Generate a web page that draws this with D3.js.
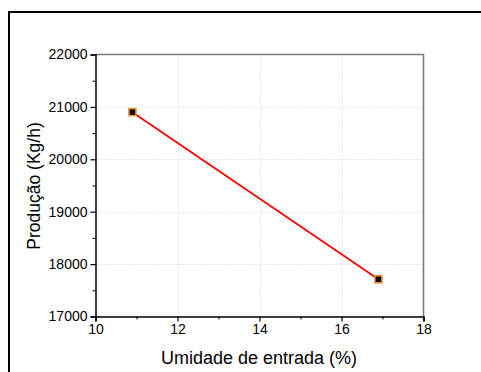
<!DOCTYPE html>
<html>
<head>
<meta charset="utf-8" />
<script src="https://d3js.org/d3.v7.min.js"></script>
<style>
  body { margin: 0; background: #fff; }
  text { font-family: "Liberation Sans", Arial, sans-serif; }
</style>
</head>
<body>
<svg width="481" height="372"></svg>
<script>
// data
var umidade = [10.9, 16.9];
var producao = [20900, 17710];
var xTicks = [10, 12, 14, 16, 18];
var yTicks = [17000, 18000, 19000, 20000, 21000, 22000];

var svg = d3.select("svg");
var margin = {left: 95.5, top: 54.5, right: 423.5, bottom: 316.5};

svg.append("rect").attr("width", "100%").attr("height", "100%").attr("fill", "#fff");

// outer frame (cut off at right/bottom)
svg.append("path")
  .attr("d", "M9,400 L9,12 L500,12")
  .attr("fill", "none")
  .attr("stroke", "#000")
  .attr("stroke-width", 2);

var x = d3.scaleLinear().domain([10, 18]).range([margin.left, margin.right]);
var y = d3.scaleLinear().domain([17000, 22000]).range([margin.bottom, margin.top]);

// gridlines
svg.append("g")
  .selectAll("line")
  .data(xTicks.slice(1, -1))
  .enter().append("line")
  .attr("x1", function(d) { return Math.round(x(d)) + 0.5; })
  .attr("x2", function(d) { return Math.round(x(d)) + 0.5; })
  .attr("y1", margin.top).attr("y2", margin.bottom)
  .attr("stroke", "#d4d4d4").attr("stroke-dasharray", "1,2");

svg.append("g")
  .selectAll("line")
  .data(yTicks.slice(1, -1))
  .enter().append("line")
  .attr("y1", function(d) { return Math.round(y(d)) + 0.5; })
  .attr("y2", function(d) { return Math.round(y(d)) + 0.5; })
  .attr("x1", margin.left).attr("x2", margin.right)
  .attr("stroke", "#d4d4d4").attr("stroke-dasharray", "1,2");

// top and right frame (gray)
svg.append("path")
  .attr("d", "M" + margin.left + "," + margin.top + " L" + margin.right + "," + margin.top + " L" + margin.right + "," + margin.bottom)
  .attr("fill", "none")
  .attr("stroke", "#7a7a7a")
  .attr("stroke-width", 1.6);

// axes
var xAxis = d3.axisBottom(x).tickValues(xTicks).tickFormat(d3.format("d")).tickSize(5).tickPadding(3);
var yAxis = d3.axisLeft(y).tickValues(yTicks).tickFormat(d3.format("d")).tickSize(5).tickPadding(3);

var gx = svg.append("g").attr("transform", "translate(0," + margin.bottom + ")").call(xAxis);
var gy = svg.append("g").attr("transform", "translate(" + margin.left + ",0)").call(yAxis);

[gx, gy].forEach(function(g) {
  g.select(".domain").attr("stroke", "#000").attr("stroke-width", 1.5);
  g.selectAll(".tick line").attr("stroke", "#000").attr("stroke-width", 1.2);
  g.selectAll(".tick text").attr("fill", "#000").style("font-size", "14px")
    .style("font-family", "'Liberation Sans', Arial, sans-serif");
});

// minor ticks
var xMinor = d3.axisBottom(x).tickValues([11, 13, 15, 17]).tickFormat("").tickSize(3);
var yMinor = d3.axisLeft(y).tickValues([17500, 18500, 19500, 20500, 21500]).tickFormat("").tickSize(3);
svg.append("g").attr("transform", "translate(0," + margin.bottom + ")").call(xMinor)
  .call(function(g) { g.select(".domain").remove(); g.selectAll("line").attr("stroke", "#000"); });
svg.append("g").attr("transform", "translate(" + margin.left + ",0)").call(yMinor)
  .call(function(g) { g.select(".domain").remove(); g.selectAll("line").attr("stroke", "#000"); });

// axis titles
svg.append("text")
  .attr("x", 259).attr("y", 364)
  .attr("text-anchor", "middle")
  .style("font-size", "18px")
  .text("Umidade de entrada (%)");

svg.append("text")
  .attr("transform", "translate(39.5,186) rotate(-90)")
  .attr("text-anchor", "middle")
  .style("font-size", "17.5px")
  .text("Produção (Kg/h)");

// line
var pts = umidade.map(function(d, i) { return [d, producao[i]]; });
svg.append("path")
  .datum(pts)
  .attr("d", d3.line().x(function(d) { return x(d[0]); }).y(function(d) { return y(d[1]); }))
  .attr("fill", "none")
  .attr("stroke", "#ff0000")
  .attr("stroke-width", 1.8);

// markers
svg.selectAll(".pt")
  .data(pts)
  .enter().append("rect")
  .attr("class", "pt")
  .attr("x", function(d) { return x(d[0]) - 3.5; })
  .attr("y", function(d) { return y(d[1]) - 3.5; })
  .attr("width", 7).attr("height", 7)
  .attr("fill", "#000")
  .attr("stroke", "#f7941d")
  .attr("stroke-width", 1.5);
</script>
</body>
</html>
